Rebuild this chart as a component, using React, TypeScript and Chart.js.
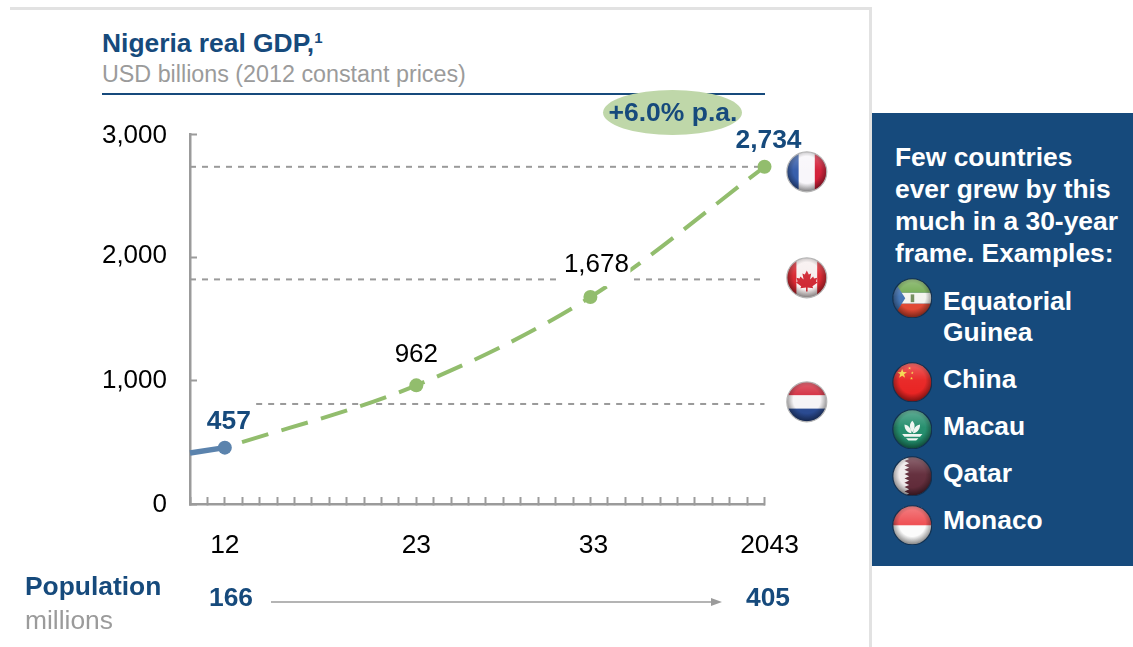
import React, { useEffect, useRef } from "react";
import { Chart, registerables } from "chart.js";

Chart.register(...registerables);

const axisYears = [2010, 2043];
const valueTicks = [0, 1000, 2000, 3000];
const shownYearLabels: Record<number, string> = { 2012: "12", 2023: "23", 2033: "33", 2043: "2043" };
const historyYears = [2010, 2012];
const historyGdp = [413, 457];
const forecastYears = [2012, 2023, 2033, 2043];
const forecastGdp = [457, 962, 1678, 2734];
const forecastLabels = ["457", "962", "1,678", "2,734"];
const franceGdp = 2734;
const canadaGdp = 1821;
const netherlandsGdp = 811;
const franceLineYears = [2010, 2043];
const canadaLineYears = [2010, 2043];
const netherlandsLineYears = [2013.8, 2043];

const FONT = '"Liberation Sans", Arial, sans-serif';
const NAVY = "#164a7c";
const GRAY = "#9b9b9b";
const GREEN = "#92bd6d";
const BIG = 26.4;

const toPoints = (xs: number[], ys: number[]) => xs.map((x, i) => ({ x, y: ys[i] }));

const labelStyles = [
  { dx: 4, dy: -26, bold: true, color: NAVY, box: false },
  { dx: 0, dy: -31, bold: false, color: "#000", box: false },
  { dx: 6, dy: -32, bold: false, color: "#000", box: true },
  { dx: 4, dy: -26, bold: true, color: NAVY, box: false },
];

const pointLabelPlugin = {
  id: "pointLabels",
  afterDatasetsDraw(chart: any) {
    const { ctx, scales } = chart;
    ctx.save();
    ctx.textAlign = "center";
    ctx.textBaseline = "middle";
    forecastYears.forEach((year, i) => {
      const s = labelStyles[i];
      const x = scales.x.getPixelForValue(year) + s.dx;
      const y = scales.y.getPixelForValue(forecastGdp[i]) + s.dy;
      if (s.box) {
        ctx.fillStyle = "#fff";
        ctx.fillRect(x - 40, y - 15, 74, 36);
      }
      ctx.font = `${s.bold ? `bold ${BIG}` : "26"}px ${FONT}`;
      ctx.fillStyle = s.color;
      ctx.fillText(forecastLabels[i], x, y);
    });
    ctx.restore();
  },
};

const xLabelNudge: Record<string, number> = { "33": 3, "2043": 5 };
const yLabelNudge: Record<string, number> = { "3,000": 2, "2,000": -2, "0": 1 };

const tickNudgePlugin = {
  id: "tickNudge",
  afterUpdate(chart: any) {
    chart.scales.x.getLabelItems(chart.chartArea).forEach((it: any) => {
      it.options.translation[0] += xLabelNudge[it.label] ?? 0;
    });
    chart.scales.y.getLabelItems(chart.chartArea).forEach((it: any) => {
      it.options.translation[1] += yLabelNudge[it.label] ?? 0;
    });
  },
};

function star(cx: number, cy: number, r: number) {
  const pts: string[] = [];
  for (let i = 0; i < 10; i++) {
    const a = -Math.PI / 2 + (i * Math.PI) / 5;
    const rr = i % 2 ? r * 0.4 : r;
    pts.push(`${cx + rr * Math.cos(a)},${cy + rr * Math.sin(a)}`);
  }
  return pts.join(" ");
}

function qatarEdge() {
  const pts = ["0,0", "30,0"];
  for (let i = 0; i < 9; i++) {
    pts.push(`${42},${(i + 0.5) * (100 / 9)}`);
    pts.push(`${30},${(i + 1) * (100 / 9)}`);
  }
  pts.push("0,100");
  return pts.join(" ");
}

function flagArt(kind: string) {
  switch (kind) {
    case "france":
      return (<>
        <rect width="30" height="100" fill="#2f58a8" />
        <rect x="30" width="40" height="100" fill="#f8f6fa" />
        <rect x="70" width="30" height="100" fill="#d21a34" />
      </>);
    case "canada":
      return (<>
        <rect width="100" height="100" fill="#f7eeee" />
        <rect width="24" height="100" fill="#d8202a" />
        <rect x="76" width="24" height="100" fill="#d8202a" />
        <path fill="#cf2430" d="M50 32 L55 42 L61 39 L58 54 L66 47 L68 52 L76 50 L73 59 L77 62 L64 71 L66 76 L52 74 L52 84 L48 84 L48 74 L34 76 L36 71 L23 62 L27 59 L24 50 L32 52 L34 47 L42 54 L39 39 L45 42 Z" />
      </>);
    case "netherlands":
      return (<>
        <rect width="100" height="34" fill="#d01c30" />
        <rect y="34" width="100" height="33" fill="#f6f4f6" />
        <rect y="67" width="100" height="33" fill="#26478f" />
      </>);
    case "guinea":
      return (<>
        <rect width="100" height="36" fill="#6ba648" />
        <rect y="36" width="100" height="28" fill="#f4f4ee" />
        <rect y="64" width="100" height="36" fill="#e0452f" />
        <polygon points="0,0 32,50 0,100" fill="#3d6fb0" />
        <rect x="46" y="40" width="9" height="20" fill="#6f8a58" />
      </>);
    case "china":
      return (<>
        <rect width="100" height="100" fill="#e8201f" />
        <polygon points={star(24, 28, 13)} fill="#f5d33a" />
        <polygon points={star(43, 14, 4)} fill="#f5d33a" />
        <polygon points={star(50, 26, 4)} fill="#f5d33a" />
        <polygon points={star(48, 40, 4)} fill="#f5d33a" />
      </>);
    case "macau":
      return (<>
        <rect width="100" height="100" fill="#1d8a68" />
        <path fill="#eef5f0" d="M50 28 C58 36 58 46 50 58 C42 46 42 36 50 28 Z M30 38 C42 40 47 50 48 60 C38 60 30 52 30 38 Z M70 38 C58 40 53 50 52 60 C62 60 70 52 70 38 Z" />
        <path fill="#eef5f0" d="M24 62 H76 L70 69 H30 Z M34 73 H66 L60 79 H40 Z" />
      </>);
    case "qatar":
      return (<>
        <rect width="100" height="100" fill="#5e2736" />
        <polygon points={qatarEdge()} fill="#eee9ea" />
      </>);
    default:
      return (<>
        <rect width="100" height="100" fill="#fbfbfb" />
        <rect width="100" height="50" fill="#ee4a4e" />
      </>);
  }
}

function Flag({ kind, cx, cy, r, ring }: { kind: string; cx: number; cy: number; r: number; ring: string }) {
  const clip = `clip-${kind}`;
  const shade = `shade-${kind}`;
  const gloss = `gloss-${kind}`;
  return (
    <svg
      viewBox="-2 -2 104 104"
      width={2 * r * 1.04}
      height={2 * r * 1.04}
      style={{ position: "absolute", left: cx - r * 1.04, top: cy - r * 1.04 }}
    >
      <defs>
        <clipPath id={clip}><circle cx="50" cy="50" r="50" /></clipPath>
        <radialGradient id={shade} cx="50%" cy="45%" r="52%">
          <stop offset="65%" stopColor="#000" stopOpacity="0" />
          <stop offset="100%" stopColor="#000" stopOpacity="0.42" />
        </radialGradient>
        <linearGradient id={gloss} x1="0" y1="0" x2="0" y2="1">
          <stop offset="0%" stopColor="#fff" stopOpacity="0.3" />
          <stop offset="45%" stopColor="#fff" stopOpacity="0.05" />
          <stop offset="100%" stopColor="#fff" stopOpacity="0" />
        </linearGradient>
      </defs>
      <g clipPath={`url(#${clip})`}>
        {flagArt(kind)}
        <circle cx="50" cy="50" r="50" fill={`url(#${shade})`} />
        <rect width="100" height="100" fill={`url(#${gloss})`} />
      </g>
      <circle cx="50" cy="50" r="50" fill="none" stroke={ring} strokeWidth="3" />
    </svg>
  );
}

function Txt({ x, cy, size, color, bold, children, center }: any) {
  return (
    <div
      style={{
        position: "absolute",
        left: center ? x - 200 : x,
        width: center ? 400 : undefined,
        textAlign: center ? "center" : "left",
        top: cy - 20,
        height: 40,
        lineHeight: "40px",
        fontFamily: FONT,
        fontSize: size,
        fontWeight: bold ? 700 : 400,
        color,
        whiteSpace: "nowrap",
      }}
    >
      {children}
    </div>
  );
}

export default function App() {
  const ref = useRef<HTMLCanvasElement>(null);

  useEffect(() => {
    const refLine = (xs: number[], value: number) => ({
      data: toPoints(xs, xs.map(() => value)),
      borderColor: "#9a9a9a",
      borderWidth: 2,
      borderDash: [6, 6],
      pointRadius: 0,
      fill: false,
    });
    const chart = new Chart(ref.current as HTMLCanvasElement, {
      type: "line",
      data: {
        datasets: [
          {
            data: toPoints(historyYears, historyGdp),
            borderColor: "#5b83ad",
            backgroundColor: "#5b83ad",
            borderWidth: 5.5,
            pointRadius: [0, 7],
            pointBorderWidth: 0,
          },
          {
            data: toPoints(forecastYears, forecastGdp),
            borderColor: GREEN,
            backgroundColor: GREEN,
            borderWidth: 4,
            borderDash: [27.5, 13.7],
            borderDashOffset: 23.2,
            cubicInterpolationMode: "monotone",
            pointRadius: [0, 7, 7, 7],
            pointBorderWidth: 0,
          },
          refLine(franceLineYears, franceGdp),
          refLine(canadaLineYears, canadaGdp),
          refLine(netherlandsLineYears, netherlandsGdp),
        ],
      } as any,
      options: {
        animation: false,
        responsive: false,
        events: [],
        layout: { padding: { left: 90, right: 368.5, top: 134, bottom: 63 } },
        plugins: { legend: { display: false }, tooltip: { enabled: false } },
        clip: false,
        scales: {
          x: {
            type: "linear",
            min: axisYears[0],
            max: axisYears[1],
            afterFit: (s: any) => { s.height = 80; },
            afterBuildTicks: (s: any) => {
              const out = [];
              for (let v = axisYears[0]; v <= axisYears[1]; v++) out.push({ value: v });
              s.ticks = out;
            },
            border: { color: GRAY, width: 2.5 },
            grid: { drawOnChartArea: false, tickLength: -7, tickColor: GRAY, tickWidth: 2 },
            ticks: {
              autoSkip: false,
              maxRotation: 0,
              padding: 33,
              color: "#000",
              font: { family: FONT, size: 26.4 },
              callback: (v: any) => shownYearLabels[v] ?? "",
            },
          },
          y: {
            type: "linear",
            min: valueTicks[0],
            max: valueTicks[valueTicks.length - 1],
            afterFit: (s: any) => { s.width = 100; },
            afterBuildTicks: (s: any) => { s.ticks = valueTicks.map((value) => ({ value })); },
            border: { color: GRAY, width: 2.5 },
            grid: { drawOnChartArea: false, tickLength: -7, tickColor: GRAY, tickWidth: 2 },
            ticks: {
              padding: 30,
              color: "#000",
              font: { family: FONT, size: 26 },
              callback: (v: any) => Number(v).toLocaleString("en-US"),
            },
          },
        },
      } as any,
      plugins: [tickNudgePlugin, pointLabelPlugin],
    });
    return () => chart.destroy();
  }, []);

  return (
    <div style={{ position: "fixed", left: 0, top: 0, width: 1133, height: 647, background: "#fff", overflow: "hidden" }}>
      <div style={{ position: "absolute", left: 10, top: 7, width: 861, height: 3, background: "#e2e2e2" }} />
      <div style={{ position: "absolute", left: 869, top: 7, width: 3, height: 640, background: "#e2e2e2" }} />

      <Txt x={102} cy={43} size={BIG} color={NAVY} bold>
        Nigeria real GDP,<sup style={{ fontSize: 15, lineHeight: 0, verticalAlign: 9 }}>1</sup>
      </Txt>
      <Txt x={102} cy={74} size={23.3} color={GRAY}>USD billions (2012 constant prices)</Txt>
      <div style={{ position: "absolute", left: 102, top: 93, width: 663, height: 2, background: NAVY }} />

      <canvas ref={ref} width={1133} height={647} style={{ position: "absolute", left: 0, top: 0, width: 1133, height: 647 }} />

      <div style={{ position: "absolute", left: 603, top: 90, width: 139, height: 45, borderRadius: "50%", background: "#bfd7a9" }} />
      <Txt x={673} cy={112} size={26.5} color={NAVY} bold center>+6.0% p.a.</Txt>

      <Flag kind="france" cx={807} cy={172} r={20} ring="#b5b5b5" />
      <Flag kind="canada" cx={807} cy={278} r={20} ring="#b5b5b5" />
      <Flag kind="netherlands" cx={807} cy={402} r={20} ring="#b5b5b5" />

      <Txt x={25} cy={586} size={BIG} color={NAVY} bold>Population</Txt>
      <Txt x={25} cy={620} size={BIG} color={GRAY}>millions</Txt>
      <Txt x={231} cy={597} size={BIG} color={NAVY} bold center>166</Txt>
      <Txt x={768} cy={597} size={BIG} color={NAVY} bold center>405</Txt>
      <svg width="460" height="14" style={{ position: "absolute", left: 268, top: 595 }}>
        <line x1="3" y1="7" x2="446" y2="7" stroke={GRAY} strokeWidth="1.5" />
        <polygon points="443,3 454,7 443,11" fill={GRAY} />
      </svg>

      <div style={{ position: "absolute", left: 872, top: 113, width: 261, height: 453, background: "#164a7c" }} />
      <Txt x={895} cy={157} size={BIG} color="#fff" bold>Few countries</Txt>
      <Txt x={895} cy={189} size={BIG} color="#fff" bold>ever grew by this</Txt>
      <Txt x={895} cy={221} size={BIG} color="#fff" bold>much in a 30-year</Txt>
      <Txt x={895} cy={253} size={BIG} color="#fff" bold>frame. Examples:</Txt>
      <Txt x={943} cy={301} size={BIG} color="#fff" bold>Equatorial</Txt>
      <Txt x={943} cy={332} size={BIG} color="#fff" bold>Guinea</Txt>
      <Txt x={943} cy={379} size={BIG} color="#fff" bold>China</Txt>
      <Txt x={943} cy={426} size={BIG} color="#fff" bold>Macau</Txt>
      <Txt x={943} cy={473} size={BIG} color="#fff" bold>Qatar</Txt>
      <Txt x={943} cy={520} size={BIG} color="#fff" bold>Monaco</Txt>
      <Flag kind="guinea" cx={912} cy={298} r={19.5} ring="#12304f" />
      <Flag kind="china" cx={912} cy={382} r={19.5} ring="#12304f" />
      <Flag kind="macau" cx={912} cy={429} r={19.5} ring="#12304f" />
      <Flag kind="qatar" cx={912} cy={476} r={19.5} ring="#12304f" />
      <Flag kind="monaco" cx={912} cy={525} r={19.5} ring="#12304f" />
    </div>
  );
}
